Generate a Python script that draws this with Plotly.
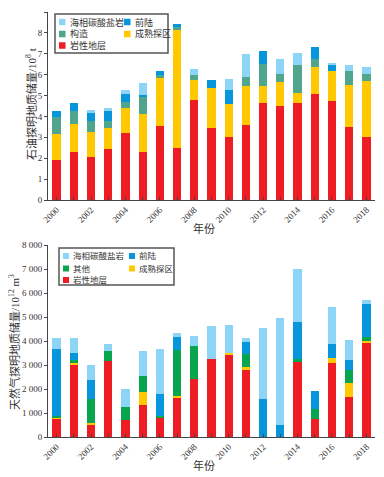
import plotly.graph_objects as go

years = list(range(2000, 2019))
tick_text = [str(y) if y % 2 == 0 else "" for y in years]

# Oil reserves (10^8 t)
oil_names = ["岩性地层", "成熟探区", "构造", "前陆", "海相碳酸盐岩"]
oil_lithologic = [1.91, 2.31, 2.05, 2.44, 3.21, 2.29, 3.54, 2.48, 4.81, 3.45, 3.01, 3.59, 4.65, 4.50, 4.65, 5.08, 4.74, 3.49, 3.01]
oil_mature = [1.25, 1.33, 1.20, 1.02, 1.21, 1.83, 2.31, 5.68, 0.94, 1.89, 1.59, 1.87, 0.81, 1.16, 0.48, 1.30, 1.45, 2.02, 2.70]
oil_structural = [0.83, 0.62, 0.53, 0.32, 0.28, 0.82, 0.13, 0.13, 0.24, 0, 0, 0.44, 1.06, 0.38, 1.34, 0.38, 0, 0.68, 0.33]
oil_foreland = [0.27, 0.39, 0.40, 0.48, 0.36, 0.09, 0.21, 0.12, 0, 0.41, 0.67, 0, 0.63, 0, 0, 0.58, 0.28, 0, 0]
oil_marine = [0, 0, 0.15, 0.15, 0.23, 0.58, 0, 0, 0.29, 0, 0.53, 1.10, 0, 0.72, 0.58, 0, 0.10, 0.28, 0.34]
oil_ticks = list(range(0, 10))

# Gas reserves
gas_names = ["岩性地层", "成熟探区", "其他", "前陆", "海相碳酸盐岩"]
gas_lithologic = [790, 3030, 540, 3160, 700, 1320, 790, 1660, 2410, 3240, 3450, 2780, 0, 0, 3160, 740, 3070, 1660, 3950]
gas_mature = [40, 60, 60, 0, 0, 540, 0, 50, 0, 0, 40, 130, 0, 0, 0, 0, 210, 580, 40]
gas_other = [60, 110, 970, 410, 540, 670, 100, 1910, 1370, 0, 0, 540, 0, 0, 80, 410, 0, 540, 170]
gas_foreland = [2780, 320, 790, 0, 0, 0, 900, 540, 0, 0, 0, 500, 1570, 490, 1540, 760, 590, 420, 1380]
gas_marine = [450, 600, 630, 300, 750, 1040, 1880, 170, 420, 1380, 1170, 170, 2960, 4460, 2220, 0, 1540, 830, 160]
gas_ticks = list(range(0, 8001, 1000))
gas_tick_text = ["0"] + [f"{v // 1000}\u00a0000" for v in gas_ticks[1:]]

oil_colors = ["#EE1D24", "#FFC800", "#4FA68D", "#0795DB", "#8DD5F6"]
gas_colors = ["#EE1D24", "#FFC800", "#08A54F", "#0795DB", "#8DD5F6"]

FONT = "Liberation Serif, Noto Sans CJK SC"
TXT = "#333333"

# page body has an 8px margin: figure is drawn offset by 8px
OFF = 8
WIN_W, WIN_H = 384, 477
W, H = WIN_W - OFF, WIN_H - OFF
# plot area in window pixels: x 48..375, y 12..437
PL, PR, PT, PB = 48, 375, 12, 437
L, R, T, B = PL - OFF, W - (PR - OFF), PT - OFF, H - (PB - OFF)


def px(x):
    return (x - PL) / (PR - PL)


def py(y):
    return (PB - y) / (PB - PT)


fig = go.Figure()

oil_series = [oil_lithologic, oil_mature, oil_structural, oil_foreland, oil_marine]
gas_series = [gas_lithologic, gas_mature, gas_other, gas_foreland, gas_marine]

for name, vals, col in zip(oil_names, oil_series, oil_colors):
    fig.add_trace(go.Bar(x=years, y=vals, name=name, marker=dict(color=col, line=dict(width=0)),
                         xaxis="x", yaxis="y", showlegend=False))
for name, vals, col in zip(gas_names, gas_series, gas_colors):
    fig.add_trace(go.Bar(x=years, y=vals, name=name, marker=dict(color=col, line=dict(width=0)),
                         xaxis="x2", yaxis="y2", showlegend=False))

axis_common = dict(showgrid=False, zeroline=False, showline=True, linecolor="#444", linewidth=1,
                   tickfont=dict(family=FONT, size=9, color=TXT), automargin=False)

fig.update_layout(
    width=W, height=H,
    margin=dict(l=L, r=R, t=T, b=B, autoexpand=False),
    paper_bgcolor="white", plot_bgcolor="white",
    barmode="stack", bargap=0.52,
    xaxis=dict(domain=[0, 1], anchor="y", range=[1999.5, 2018.5], tickvals=years, ticktext=tick_text,
               tickangle=-45, ticks="inside", ticklen=3, tickcolor="#444", **axis_common),
    yaxis=dict(domain=[py(200), 1], anchor="x", range=[0, 9], tickvals=oil_ticks,
               ticktext=[str(v) for v in oil_ticks], ticks="outside", ticklen=3,
               tickcolor="#444", **axis_common),
    xaxis2=dict(domain=[0, 1], anchor="y2", range=[1999.5, 2018.5], tickvals=years, ticktext=tick_text,
                tickangle=-45, ticks="inside", ticklen=3, tickcolor="#444", **axis_common),
    yaxis2=dict(domain=[0, py(245)], anchor="x2", range=[0, 8000], tickvals=gas_ticks, ticktext=gas_tick_text,
                ticks="outside", ticklen=3, tickcolor="#444", **axis_common),
)

ann = []
shapes = []


def title(text, x, y, angle=0, size=11):
    ann.append(dict(text=text, x=px(x), y=py(y), xref="paper", yref="paper", showarrow=False,
                    xanchor="center", yanchor="middle", textangle=angle,
                    font=dict(family=FONT, size=size, color=TXT)))


title("年份", 204, 228)
title("年份", 204, 465)
title("石油探明地质储量/10<sup>8</sup> t", 31, 104, -90)
title("天然气探明地质储量/10<sup>12</sup> m<sup>3</sup>", 14, 342, -90)


def legend(box, rows, names, colors, col2_x, sw, fsize):
    x0, y0, x1, y1 = box
    shapes.append(dict(type="rect", xref="paper", yref="paper", x0=px(x0), x1=px(x1), y0=py(y0), y1=py(y1),
                       line=dict(color="#555", width=1.5), fillcolor="white", layer="above"))
    # row1: marine, foreland ; row2: structural/other, mature ; row3: lithologic
    order = [(4, 0, 0), (3, 0, 1), (2, 1, 0), (1, 1, 1), (0, 2, 0)]
    for idx, r, c in order:
        sx = (x0 + 4) if c == 0 else col2_x
        cy = rows[r]
        shapes.append(dict(type="rect", xref="paper", yref="paper", x0=px(sx), x1=px(sx + sw),
                           y0=py(cy + sw / 2), y1=py(cy - sw / 2), line=dict(width=0),
                           fillcolor=colors[idx], layer="above"))
        ann.append(dict(text=names[idx], x=px(sx + sw + 2), y=py(cy), xref="paper", yref="paper",
                        xanchor="left", yanchor="middle", showarrow=False,
                        font=dict(family=FONT, size=fsize, color=TXT)))


legend((55, 14, 168, 53), [22, 34, 45.5], oil_names, oil_colors, 124, 6.5, 9)
legend((59, 248, 174, 285), [256, 268.5, 280], gas_names, gas_colors, 129, 6, 8.5)

fig.update_layout(annotations=ann, shapes=shapes)
fig.write_html("out.html")
